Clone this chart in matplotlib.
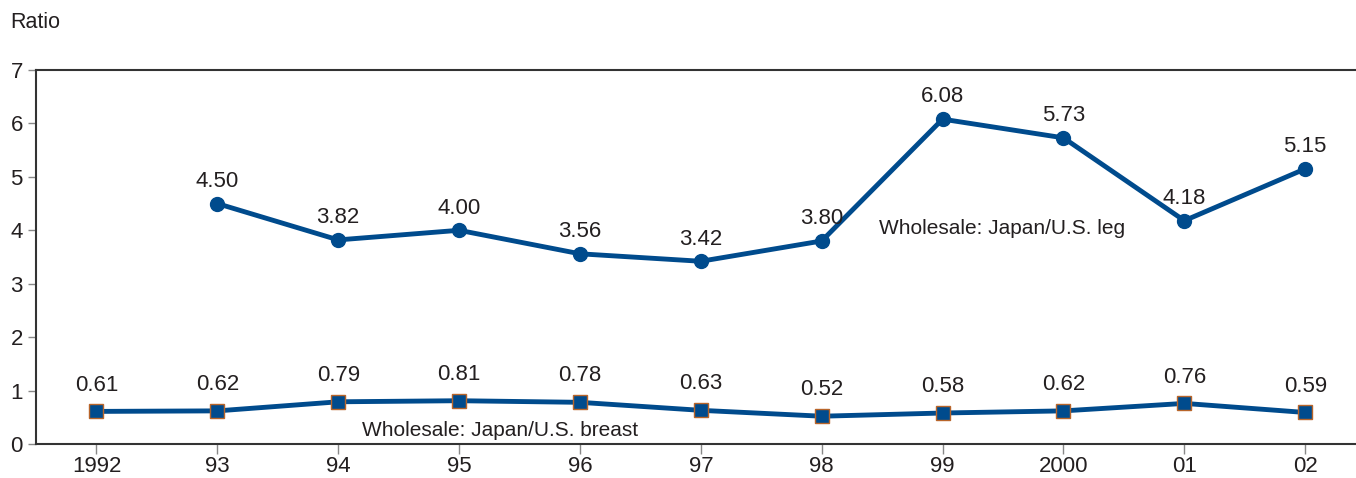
import numpy as np
import matplotlib.pyplot as plt

plt.rcParams['font.family'] = ['Liberation Sans', 'DejaVu Sans']

years = ['1992', '93', '94', '95', '96', '97', '98', '99', '2000', '01', '02']
leg = [np.nan, 4.50, 3.82, 4.00, 3.56, 3.42, 3.80, 6.08, 5.73, 4.18, 5.15]
breast = [0.61, 0.62, 0.79, 0.81, 0.78, 0.63, 0.52, 0.58, 0.62, 0.76, 0.59]

blue = '#004b8d'
x = np.arange(len(years))

fig = plt.figure(figsize=(13.56, 4.78), dpi=100)
ax = fig.add_axes([36/1356, 1-444/478, 1-36/1356, (444-70)/478])

ax.plot(x, leg, color=blue, lw=3.5, marker='o', ms=10, zorder=3)
ax.plot(x, breast, color=blue, lw=3.5, marker='s', ms=10,
        markeredgecolor='#b8652a', markeredgewidth=1, zorder=3)

for i in range(len(x)):
    if not np.isnan(leg[i]):
        ax.annotate('%.2f' % leg[i], (x[i], leg[i]), xytext=(0, 16),
                    textcoords='offset points', ha='center', va='center',
                    fontsize=16, color='#231f20')
    ax.annotate('%.2f' % breast[i], (x[i], breast[i]), xytext=(0, 19),
                textcoords='offset points', ha='center', va='center',
                fontsize=16, color='#231f20')

ax.text(6.47, 4.03, 'Wholesale: Japan/U.S. leg', fontsize=15, va='center', color='#231f20')
ax.text(2.2, 0.26, 'Wholesale: Japan/U.S. breast', fontsize=15, va='center', color='#231f20')

ax.set_xlim(-0.5, 10.42)
ax.set_ylim(0, 7)
ax.set_xticks(x)
ax.set_xticklabels(years)
ax.set_yticks(range(8))
ax.tick_params(axis='both', labelsize=16, colors='#231f20')
ax.tick_params(axis='x', length=7, width=1, color='#888888', pad=1.5)
ax.tick_params(axis='y', length=6, width=1, color='#888888')
for s in ['left', 'bottom', 'top']:
    ax.spines[s].set_color('#333333')
    ax.spines[s].set_linewidth(1.5)
ax.spines['right'].set_visible(False)

fig.text(10/1356, 1-22/478, 'Ratio', fontsize=15.5, va='center', color='#231f20')

fig.savefig('out.png', dpi=100)
